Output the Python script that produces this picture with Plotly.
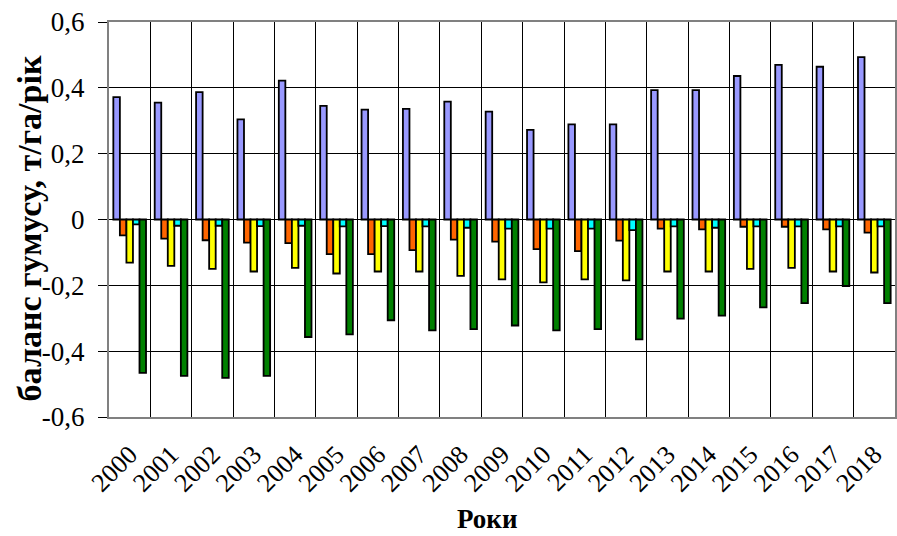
import plotly.graph_objects as go

# Роки спостережень
years = [str(y) for y in range(2000, 2019)]

# Баланс гумусу, т/га/рік, за п'ятьма складовими
series_1 = [0.372, 0.355, 0.387, 0.304, 0.422, 0.345, 0.334, 0.336, 0.358, 0.328,
            0.272, 0.289, 0.289, 0.393, 0.393, 0.436, 0.470, 0.464, 0.493]
series_2 = [-0.048, -0.058, -0.063, -0.070, -0.072, -0.105, -0.105, -0.093, -0.061, -0.067,
            -0.090, -0.096, -0.064, -0.028, -0.030, -0.022, -0.022, -0.030, -0.040]
series_3 = [-0.131, -0.141, -0.150, -0.158, -0.147, -0.164, -0.158, -0.158, -0.171, -0.182,
            -0.191, -0.182, -0.185, -0.158, -0.158, -0.150, -0.147, -0.158, -0.161]
series_4 = [-0.015, -0.019, -0.019, -0.020, -0.019, -0.021, -0.020, -0.021, -0.025, -0.028,
            -0.028, -0.028, -0.032, -0.021, -0.025, -0.021, -0.021, -0.021, -0.021]
series_5 = [-0.466, -0.475, -0.481, -0.475, -0.357, -0.349, -0.306, -0.337, -0.333, -0.322,
            -0.337, -0.333, -0.364, -0.301, -0.292, -0.267, -0.254, -0.202, -0.254]

y_tick_vals = [-0.6, -0.4, -0.2, 0, 0.2, 0.4, 0.6]
y_tick_text = ["-0,6", "-0,4", "-0,2", "0", "0,2", "0,4", "0,6"]

colors = ["#9999FF", "#FF6600", "#FFFF00", "#00FFFF", "#008000"]
serif = "Times New Roman, Liberation Serif, serif"

fig = go.Figure()
for vals, col in zip([series_1, series_2, series_3, series_4, series_5], colors):
    fig.add_trace(go.Bar(
        x=years, y=vals,
        marker=dict(color=col, line=dict(color="black", width=1.8)),
        showlegend=False,
    ))

fig.update_layout(
    width=897, height=536,
    margin=dict(l=109, r=0, t=22, b=119),
    paper_bgcolor="white", plot_bgcolor="white",
    barmode="group", bargap=0.21, bargroupgap=0,
    font=dict(family=serif, size=27, color="black"),
    xaxis=dict(
        type="category", tickson="boundaries",
        showgrid=True, gridcolor="black", gridwidth=1,
        showline=True, linecolor="#808080", linewidth=2, mirror=True,
        ticks="", tickangle=-45, ticklabelstandoff=10,
        tickfont=dict(family=serif, size=26),
    ),
    yaxis=dict(
        range=[-0.6, 0.6], tickvals=y_tick_vals, ticktext=y_tick_text,
        showgrid=True, gridcolor="black", gridwidth=1,
        zeroline=True, zerolinecolor="black", zerolinewidth=1,
        showline=True, linecolor="#808080", linewidth=2, mirror=True,
        ticks="outside", ticklen=9, tickcolor="black", ticklabelstandoff=8,
        tickfont=dict(family=serif, size=27),
    ),
    annotations=[
        dict(text="<b>баланс гумусу, т/га/рік</b>", textangle=-90,
             xref="paper", yref="paper", x=-0.1015, y=0.478,
             xanchor="center", yanchor="middle", showarrow=False,
             font=dict(family=serif, size=34)),
        dict(text="<b>Роки</b>",
             xref="paper", yref="paper", x=0.481, y=-0.258,
             xanchor="center", yanchor="middle", showarrow=False,
             font=dict(family=serif, size=27)),
    ],
)

fig.write_html("out.html")
